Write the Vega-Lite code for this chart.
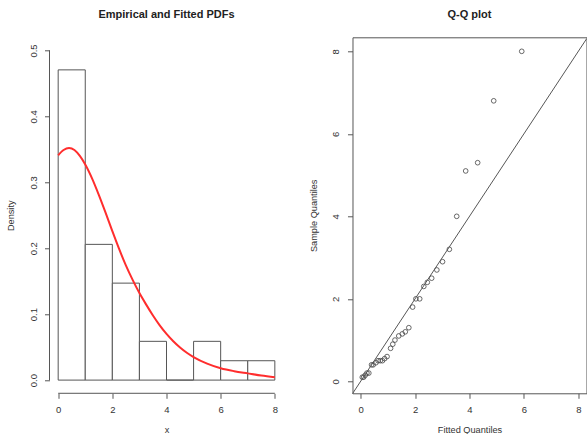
{
  "$schema": "https://vega.github.io/schema/vega-lite/v6.json",
  "autosize": {"type": "pad"},
  "padding": {"left": 6.5, "top": 8.3, "right": 0, "bottom": 1.4},
  "background": "white",
  "config": {
    "font": "Liberation Sans",
    "view": {"stroke": null},
    "axis": {
      "labelFont": "Liberation Sans",
      "titleFont": "Liberation Sans",
      "labelFontSize": 9.5,
      "titleFontSize": 9.2,
      "labelColor": "#333",
      "titleColor": "#333",
      "titleFontWeight": "normal",
      "tickColor": "#555",
      "tickSize": 5,
      "grid": false,
      "domain": false,
      "labelFlush": false,
      "labelOverlap": false
    },
    "title": {"font": "Liberation Sans", "fontSize": 11, "fontWeight": "bold", "color": "#222", "baseline": "alphabetic", "frame": "group", "anchor": "middle"}
  },
  "datasets": {
    "hist": [
      {"x0": 0, "x1": 1, "density": 0.4706},
      {"x0": 1, "x1": 2, "density": 0.2059},
      {"x0": 2, "x1": 3, "density": 0.1471},
      {"x0": 3, "x1": 4, "density": 0.0588},
      {"x0": 4, "x1": 5, "density": 0},
      {"x0": 5, "x1": 6, "density": 0.0588},
      {"x0": 6, "x1": 7, "density": 0.0294},
      {"x0": 7, "x1": 8, "density": 0.0294}
    ],
    "curve": [
      {"x": 0, "y": 0.341},
      {"x": 0.2, "y": 0.349},
      {"x": 0.4, "y": 0.352},
      {"x": 0.6, "y": 0.349},
      {"x": 0.8, "y": 0.34},
      {"x": 1.0, "y": 0.327},
      {"x": 1.25, "y": 0.306},
      {"x": 1.5, "y": 0.281},
      {"x": 1.75, "y": 0.254},
      {"x": 2.0, "y": 0.226},
      {"x": 2.25, "y": 0.199},
      {"x": 2.5, "y": 0.174},
      {"x": 2.75, "y": 0.152},
      {"x": 3.0, "y": 0.132},
      {"x": 3.25, "y": 0.1145},
      {"x": 3.5, "y": 0.098},
      {"x": 3.75, "y": 0.083},
      {"x": 4.0, "y": 0.07},
      {"x": 4.25, "y": 0.059},
      {"x": 4.5, "y": 0.0495},
      {"x": 4.75, "y": 0.0415},
      {"x": 5.0, "y": 0.035},
      {"x": 5.5, "y": 0.025},
      {"x": 6.0, "y": 0.018},
      {"x": 6.5, "y": 0.0135},
      {"x": 7.0, "y": 0.0102},
      {"x": 7.5, "y": 0.007},
      {"x": 8.0, "y": 0.0045}
    ],
    "qq": [
      {"fitted": 0.06, "sample": 0.1},
      {"fitted": 0.11, "sample": 0.1},
      {"fitted": 0.17, "sample": 0.15},
      {"fitted": 0.23, "sample": 0.2},
      {"fitted": 0.3, "sample": 0.2},
      {"fitted": 0.4, "sample": 0.4},
      {"fitted": 0.46, "sample": 0.4},
      {"fitted": 0.56, "sample": 0.45},
      {"fitted": 0.64, "sample": 0.5},
      {"fitted": 0.72, "sample": 0.5},
      {"fitted": 0.8, "sample": 0.5},
      {"fitted": 0.88, "sample": 0.55},
      {"fitted": 0.97, "sample": 0.6},
      {"fitted": 1.1, "sample": 0.8},
      {"fitted": 1.18, "sample": 0.9},
      {"fitted": 1.26, "sample": 1.0},
      {"fitted": 1.4, "sample": 1.1},
      {"fitted": 1.53, "sample": 1.15},
      {"fitted": 1.64, "sample": 1.2},
      {"fitted": 1.77, "sample": 1.3},
      {"fitted": 1.91, "sample": 1.8},
      {"fitted": 2.03, "sample": 2.0},
      {"fitted": 2.17, "sample": 2.0},
      {"fitted": 2.32, "sample": 2.3},
      {"fitted": 2.45, "sample": 2.4},
      {"fitted": 2.61, "sample": 2.5},
      {"fitted": 2.8, "sample": 2.7},
      {"fitted": 3.01, "sample": 2.9},
      {"fitted": 3.26, "sample": 3.2},
      {"fitted": 3.53, "sample": 4.0},
      {"fitted": 3.86, "sample": 5.1},
      {"fitted": 4.3, "sample": 5.3},
      {"fitted": 4.89, "sample": 6.8},
      {"fitted": 5.92, "sample": 8.0}
    ]
  },
  "spacing": 69,
  "bounds": "flush",
  "hconcat": [
    {
      "title": {"text": "Empirical and Fitted PDFs", "offset": 17.2},
      "width": 234,
      "height": 356,
      "layer": [
        {
          "data": {"name": "hist"},
          "mark": {"type": "rect", "fill": "white", "stroke": "#555", "strokeWidth": 1},
          "encoding": {
            "x": {
              "field": "x0", "type": "quantitative",
              "scale": {"domain": [-0.32, 8.32], "nice": false, "zero": false},
              "axis": {"values": [0, 2, 4, 6, 8], "title": "x", "labelAngle": 0, "labelPadding": 6.4, "titleX": 117, "titleY": 39.3, "titleBaseline": "alphabetic", "titleAlign": "center"}
            },
            "x2": {"field": "x1"},
            "y": {
              "field": "density", "type": "quantitative",
              "scale": {"domain": [-0.02, 0.52], "nice": false, "zero": false},
              "axis": {"values": [0, 0.1, 0.2, 0.3, 0.4, 0.5], "format": ".1f", "title": "Density", "labelAngle": -90, "labelAlign": "center", "labelBaseline": "middle", "labelPadding": 11.5, "titleX": -36, "titleY": 178, "titleAngle": -90, "titleBaseline": "alphabetic", "titleAlign": "center"}
            },
            "y2": {"datum": 0}
          }
        },
        {
          "data": {"name": "curve"},
          "mark": {"type": "line", "color": "#ff2d2d", "strokeWidth": 2, "interpolate": "monotone"},
          "encoding": {
            "x": {"field": "x", "type": "quantitative"},
            "y": {"field": "y", "type": "quantitative"}
          }
        },
        {
          "data": {"values": [{}]},
          "mark": {"type": "rule", "color": "#555", "strokeWidth": 1},
          "encoding": {"x": {"datum": -0.32}, "y": {"datum": 0}, "y2": {"datum": 0.5}}
        },
        {
          "data": {"values": [{}]},
          "mark": {"type": "rule", "color": "#555", "strokeWidth": 1},
          "encoding": {"x": {"datum": 0}, "x2": {"datum": 8}, "y": {"datum": -0.02}}
        }
      ]
    },
    {
      "title": {"text": "Q-Q plot", "offset": 17.2},
      "width": 234,
      "height": 356,
      "view": {"stroke": "#555"},
      "layer": [
        {
          "data": {"name": "qq"},
          "mark": {"type": "point", "shape": "circle", "filled": false, "stroke": "#444", "strokeWidth": 0.8, "size": 22, "opacity": 1},
          "encoding": {
            "x": {
              "field": "fitted", "type": "quantitative",
              "scale": {"domain": [-0.3, 8.3], "nice": false, "zero": false},
              "axis": {"values": [0, 2, 4, 6, 8], "title": "Fitted Quantiles", "labelAngle": 0, "labelPadding": 6.4, "titleX": 117, "titleY": 39.3, "titleBaseline": "alphabetic", "titleAlign": "center"}
            },
            "y": {
              "field": "sample", "type": "quantitative",
              "scale": {"domain": [-0.29, 8.34], "nice": false, "zero": false},
              "axis": {"values": [0, 2, 4, 6, 8], "title": "Sample Quantiles", "labelAngle": -90, "labelAlign": "center", "labelBaseline": "middle", "labelPadding": 11.5, "titleX": -36, "titleY": 178, "titleAngle": -90, "titleBaseline": "alphabetic", "titleAlign": "center"}
            }
          }
        },
        {
          "data": {"values": [{}]},
          "mark": {"type": "rule", "color": "#555", "strokeWidth": 1},
          "encoding": {"x": {"datum": -0.3}, "y": {"datum": -0.3}, "x2": {"datum": 8.3}, "y2": {"datum": 8.3}}
        }
      ]
    }
  ]
}
